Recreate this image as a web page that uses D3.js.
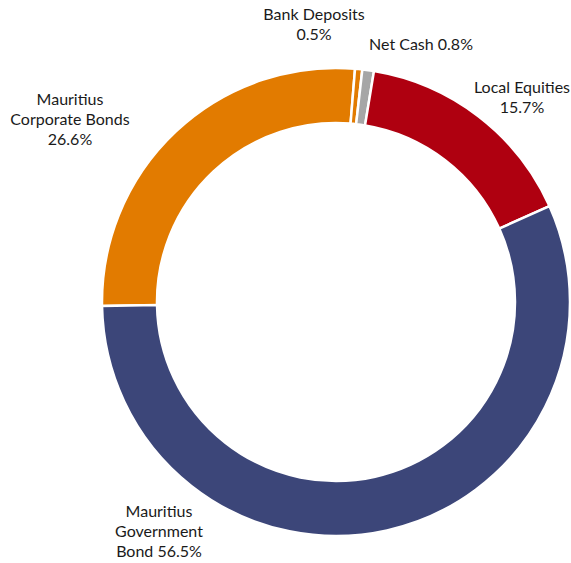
<!DOCTYPE html>
<html>
<head>
<meta charset="utf-8">
<script src="https://cdn.jsdelivr.net/npm/d3@7"></script>
<style>
  body { margin: 0; background: #fff; }
  text { font-family: "Lato", "Open Sans", sans-serif; font-size: 16px; fill: #1a1a1a; }
</style>
</head>
<body>
<script>
// données du graphique (sens horaire, en partant de la gauche)
const categories = ["Mauritius Corporate Bonds", "Bank Deposits", "Net Cash", "Local Equities", "Mauritius Government Bond"];
const valeurs = [26.6, 0.5, 0.8, 15.7, 56.5];
const couleurs = ["#E27B00", "#E27B00", "#A6A6A6", "#AF0010", "#3C4679"];
// étiquettes, une ligne par élément
const etiquettes = [
  ["Mauritius", "Corporate Bonds", "26.6%"],
  ["Bank Deposits", "0.5%"],
  ["Net Cash 0.8%"],
  ["Local Equities", "15.7%"],
  ["Mauritius", "Government", "Bond 56.5%"]
];

// mise en page
const largeur = 571, hauteur = 563;
const cx = 336, cy = 302;
const rayonExt = 234, rayonInt = 179;
// position (x, ligne de base de la 1re ligne) de chaque étiquette
const posEtiquettes = [[70, 105], [314, 20], [421, 50], [522, 93], [159, 517]];
const interligne = 20;

const canevas = d3.select('body')
  .append('svg')
  .attr("width", largeur)
  .attr("height", hauteur);

const donnees = categories.map((c, i) => ({nom: c, valeur: valeurs[i], couleur: couleurs[i]}));

const depart = -91 * Math.PI / 180;
const camembert = d3.pie()
  .sort(null)
  .value(d => d.valeur)
  .startAngle(depart)
  .endAngle(depart + 2 * Math.PI);

const arc = d3.arc()
  .innerRadius(rayonInt)
  .outerRadius(rayonExt);

const groupe = canevas.append('g')
  .attr('transform', `translate(${cx},${cy})`);

groupe.selectAll('path')
  .data(camembert(donnees))
  .enter()
  .append('path')
  .attr('d', arc)
  .attr('fill', d => d.data.couleur)
  .attr('stroke', '#fff')
  .attr('stroke-width', 2.5);

// les étiquettes
const lbl = canevas.selectAll('text.etiquette')
  .data(etiquettes)
  .enter()
  .append('text')
  .attr('class', 'etiquette')
  .attr('text-anchor', 'middle');

lbl.each(function(lignes, i) {
  const t = d3.select(this);
  lignes.forEach((l, j) => {
    t.append('tspan')
      .attr('x', posEtiquettes[i][0])
      .attr('y', posEtiquettes[i][1] + j * interligne)
      .text(l);
  });
});
</script>
</body>
</html>
